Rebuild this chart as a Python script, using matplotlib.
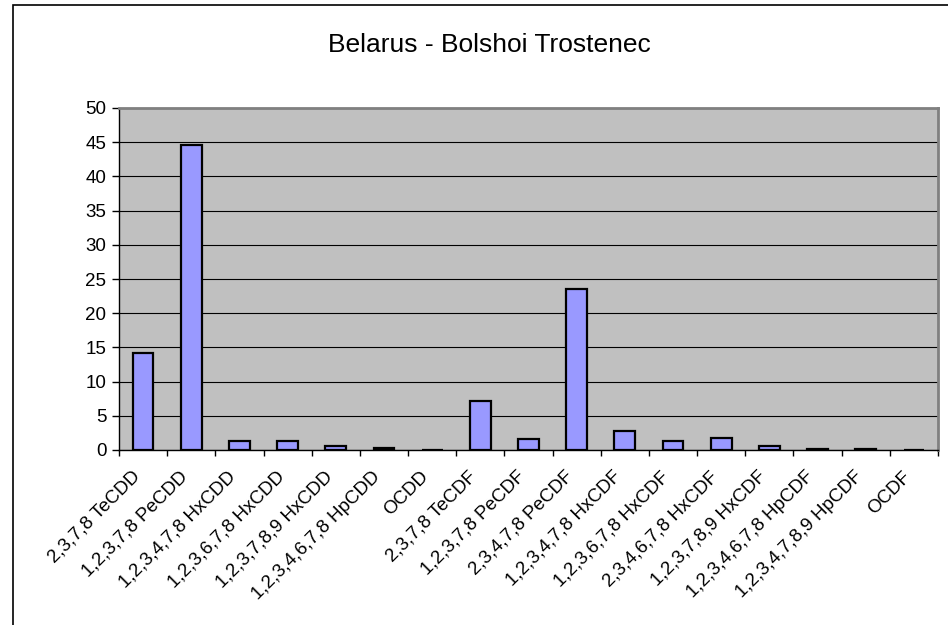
import matplotlib
matplotlib.use('Agg')
import matplotlib.pyplot as plt
from matplotlib.patches import Rectangle

plt.rcParams['font.family'] = ['Liberation Sans', 'DejaVu Sans']

congeners = ['2,3,7,8 TeCDD', '1,2,3,7,8 PeCDD', '1,2,3,4,7,8 HxCDD',
             '1,2,3,6,7,8 HxCDD', '1,2,3,7,8,9 HxCDD', '1,2,3,4,6,7,8 HpCDD',
             'OCDD', '2,3,7,8 TeCDF', '1,2,3,7,8 PeCDF', '2,3,4,7,8 PeCDF',
             '1,2,3,4,7,8 HxCDF', '1,2,3,6,7,8 HxCDF', '2,3,4,6,7,8 HxCDF',
             '1,2,3,7,8,9 HxCDF', '1,2,3,4,6,7,8 HpCDF', '1,2,3,4,7,8,9 HpCDF',
             'OCDF']
values = [14.2, 44.6, 1.3, 1.35, 0.6, 0.25, 0.0, 7.1, 1.6, 23.5,
          2.8, 1.35, 1.75, 0.6, 0.2, 0.15, 0.0]
yticks = list(range(0, 51, 5))

fig = plt.figure(figsize=(9.48, 6.25), dpi=100)
# outer chart border (cropped on right/bottom)
fig.patches.append(Rectangle((13 / 948, -0.1), 1.2, 1.1 - 5 / 625,
                             transform=fig.transFigure, fill=False,
                             edgecolor='black', linewidth=1.2))

ax = fig.add_axes([119 / 948, 1 - 450 / 625, (938 - 119) / 948, (450 - 108) / 625])
ax.set_facecolor('#C0C0C0')

x = range(len(congeners))
ax.bar(x, values, width=0.43, color='#9999FF', edgecolor='black',
       linewidth=1.6, zorder=3)

ax.set_xlim(-0.5, len(congeners) - 0.5)
ax.set_ylim(0, 50)
ax.set_yticks(yticks)
ax.yaxis.grid(True, color='black', linewidth=0.8, zorder=1)
ax.set_axisbelow(True)

ax.set_xticks([i + 0.5 for i in range(-1, len(congeners))])
ax.set_xticklabels([])
ax.set_xticks([i - 0.25 for i in x], minor=True)
ax.set_xticklabels(congeners, minor=True, rotation=45, ha='right',
                   rotation_mode='anchor', fontsize=13.5)
ax.tick_params(axis='x', which='minor', length=0, pad=13)
ax.tick_params(axis='x', which='major', length=4, width=1, direction='out')
ax.tick_params(axis='y', length=5, width=1, labelsize=13.5, pad=4)

for side in ['top', 'right']:
    ax.spines[side].set_color('#808080')
    ax.spines[side].set_linewidth(2)
for side in ['left', 'bottom']:
    ax.spines[side].set_color('black')
    ax.spines[side].set_linewidth(1)

fig.text(489 / 948, 1 - 45 / 625, 'Belarus - Bolshoi Trostenec',
         ha='center', va='center', fontsize=19)

fig.savefig('out.png', dpi=100)
